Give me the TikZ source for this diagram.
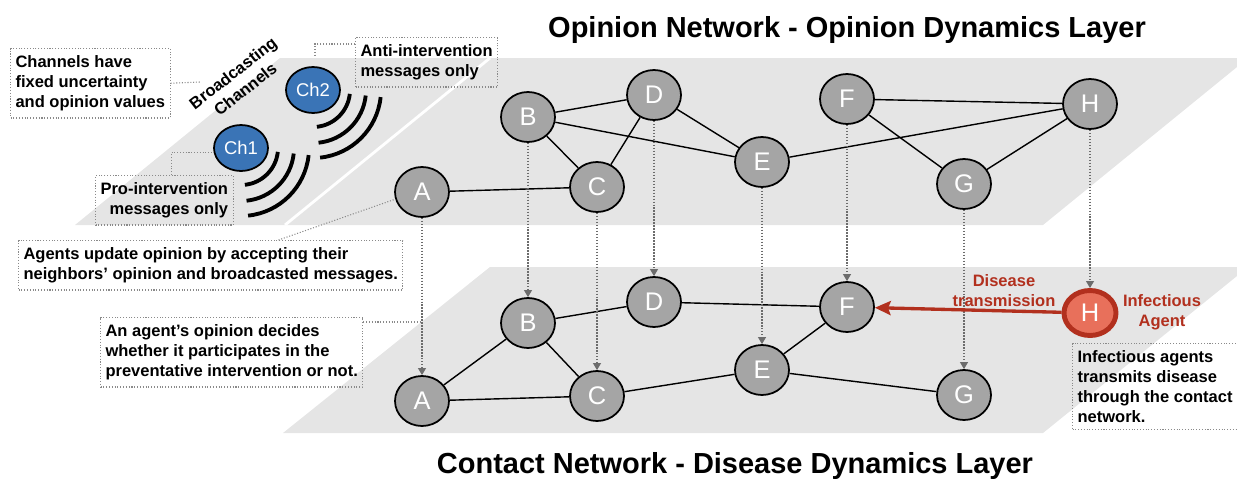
\documentclass[tikz,border=0pt]{standalone}
\usepackage{fontspec}
\setmainfont{Liberation Sans}
\usepackage{tikz}
\usetikzlibrary{arrows.meta,shapes.geometric}

\definecolor{planegray}{HTML}{E5E5E5}
\definecolor{agentgray}{HTML}{A5A5A5}
\definecolor{chanblue}{HTML}{3A74B6}
\definecolor{infectfill}{HTML}{E8705B}
\definecolor{infectred}{HTML}{B2301E}
\definecolor{notegray}{HTML}{8A8A8A}
\definecolor{linkgray}{HTML}{6C6C6C}

\tikzset{
	agentnode/.style={ellipse,draw=black,line width=1pt,fill=agentgray,text=white,minimum width=1.08cm,minimum height=1cm,inner sep=0pt,font=\fontsize{14.5}{16}\selectfont},
	channode/.style={agentnode,fill=chanblue,minimum height=0.92cm,font=\fontsize{10.5}{12}\selectfont},
	infectnode/.style={agentnode,fill=infectfill,draw=infectred,line width=2.8pt,minimum width=1.04cm,minimum height=0.9cm},
	note/.style={draw=notegray,densely dotted,line width=0.6pt,anchor=north west,align=left,inner xsep=0.1cm,inner ysep=0.14cm,font=\bfseries\fontsize{9.4}{11.4}\selectfont},
	notelink/.style={draw=notegray,densely dotted,line width=0.6pt},
	layerlink/.style={draw=linkgray,densely dotted,line width=0.7pt,-{Triangle[length=4pt,width=4.5pt]}},
	netedge/.style={line width=0.8pt},
	wave/.style={line width=2.2pt},
	layertitle/.style={anchor=base,font=\bfseries\fontsize{16.5}{20}\selectfont},
	redlabel/.style={text=infectred,align=center,font=\bfseries\fontsize{9.4}{11.4}\selectfont}
}

\begin{document}
\begin{tikzpicture}[x=0.02cm,y=-0.02cm]
	\useasboundingbox (0,0) rectangle (1237,480);

	\fill[planegray] (75,225) -- (280,58) -- (1237,58) -- (1237,67) -- (1043,225) -- cycle;
	\fill[planegray] (283,433) -- (490,267) -- (1237,267) -- (1237,276) -- (1043,433) -- cycle;
	\draw[white,line width=1.6pt] (285,225) -- (490,58);

	\node[layertitle] (optitle) at (847,37) {Opinion Network - Opinion Dynamics Layer};
	\node[layertitle] (cotitle) at (735,473) {Contact Network - Disease Dynamics Layer};

	\node[channode] (ch1) at (241,148) {Ch1};
	\node[channode] (ch2) at (313,90) {Ch2};
	\foreach \ch in {ch1,ch2}
		\foreach \r in {37,53,68}
			\draw[wave] ([shift={(6:\r)}]\ch.center) arc[start angle=6,end angle=84,radius=\r];

	\node[rotate=38,align=center,font=\bfseries\fontsize{9.4}{11.4}\selectfont] (bcast) at (239,81) {Broadcasting\\Channels};

	\foreach \n/\x/\ya/\yb in {A/422/192/401,B/528/117/323,C/597/187/396,D/654/95/302,E/762/162/370,F/847/99/307,G/964/184/395}{
		\node[agentnode] (\n1) at (\x,\ya) {\n};
		\node[agentnode] (\n2) at (\x,\yb) {\n};
	}
	\node[agentnode] (H1) at (1090,104) {H};
	\node[infectnode] (H2) at (1090,313) {H};

	\foreach \a/\b in {B/D,B/C,B/E,D/C,D/E,A/C,E/H,F/H,F/G,G/H}
		\draw[netedge] (\a1) -- (\b1);
	\foreach \a/\b in {A/B,A/C,B/C,B/D,D/F,C/E,E/F,E/G}
		\draw[netedge] (\a2) -- (\b2);

	\foreach \n in {A,B,C,D,E,F,G,H}
		\draw[layerlink] (\n1) -- (\n2);

	\draw[infectred,line width=1.9pt,-{Stealth[length=9pt,width=8pt,inset=1.5pt]}] (H2) -- (F2);
	\node[redlabel] (trans) at (1004,291) {Disease\\transmission};
	\node[redlabel] (infag) at (1162,312) {Infectious\\Agent};

	\node[note] (chnote) at (10,48) {Channels have\\fixed uncertainty\\and opinion values};
	\node[note] (antinote) at (355,37) {Anti-intervention\\messages only};
	\node[note,align=right] (pronote) at (95,175) {Pro-intervention\\messages only};
	\node[note] (updnote) at (18,240) {Agents update opinion by accepting their\\neighbors’ opinion and broadcasted messages.};
	\node[note] (partnote) at (100,317) {An agent’s opinion decides\\whether it participates in the\\preventative intervention or not.};
	\node[note] (infnote) at (1072,343) {Infectious agents\\transmits disease\\through the contact\\network.};

	\coordinate (bcastend) at (200,82);
	\coordinate (ch2end) at (315,57);
	\coordinate (partlink) at ([yshift=-0.1cm]partnote.north east);
	\draw[notelink] (chnote.east) -- (bcastend);
	\draw[notelink] ([yshift=-0.14cm]antinote.north west) -| (ch2end);
	\draw[notelink] ([xshift=0.14cm]pronote.north) |- (ch1.190);
	\draw[notelink] ([xshift=-2.5cm]updnote.north east) -- (A1.195);
	\draw[notelink] (partlink) -- (partlink -| A2);
\end{tikzpicture}
\end{document}
